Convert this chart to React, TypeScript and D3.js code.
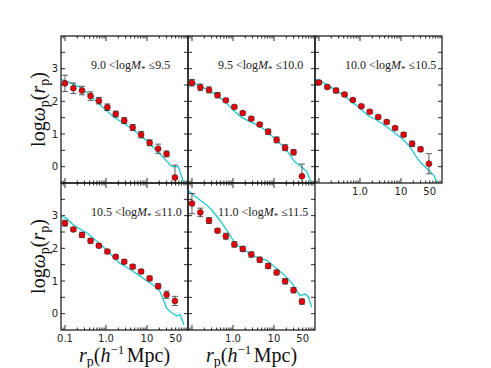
import React from 'react';
import * as d3 from 'd3';

// ---------- data ----------
const rp = [0.1, 0.16, 0.26, 0.42, 0.67, 1.08, 1.73, 2.79, 4.48, 7.2, 11.6, 18.7, 30, 48];

const massBins = [
  ['9.0', '9.5'],
  ['9.5', '10.0'],
  ['10.0', '10.5'],
  ['10.5', '11.0'],
  ['11.0', '11.5'],
];

const wp1 = [2.55, 2.40, 2.33, 2.16, 2.02, 1.82, 1.61, 1.41, 1.20, 0.98, 0.73, 0.55, 0.39, -0.33];
const err1 = [0.25, 0.16, 0.13, 0.13, 0.10, 0.10, 0.09, 0.09, 0.09, 0.10, 0.09, 0.14, 0.09, 0.38];
const wp2 = [2.57, 2.43, 2.35, 2.19, 2.03, 1.83, 1.64, 1.47, 1.29, 1.07, 0.82, 0.58, 0.44, -0.29];
const err2 = [0.10, 0.10, 0.09, 0.08, 0.05, 0.05, 0.05, 0.05, 0.06, 0.08, 0.09, 0.09, 0.08, 0.37];
const wp3 = [2.58, 2.44, 2.33, 2.21, 2.04, 1.85, 1.68, 1.52, 1.37, 1.18, 0.98, 0.70, 0.53, 0.09];
const err3 = [0.05, 0.05, 0.07, 0.05, 0.05, 0.05, 0.05, 0.05, 0.05, 0.05, 0.06, 0.08, 0.07, 0.31];
const wp4 = [2.77, 2.58, 2.41, 2.23, 2.08, 1.90, 1.74, 1.59, 1.44, 1.29, 1.08, 0.84, 0.58, 0.39];
const err4 = [0.09, 0.05, 0.08, 0.07, 0.06, 0.05, 0.05, 0.06, 0.06, 0.06, 0.07, 0.08, 0.11, 0.14];
const wp5 = [3.37, 3.10, 2.85, 2.54, 2.37, 2.12, 1.98, 1.81, 1.65, 1.46, 1.26, 0.99, 0.72, 0.37];
const err5 = [0.31, 0.13, 0.09, 0.06, 0.09, 0.08, 0.08, 0.08, 0.08, 0.08, 0.07, 0.08, 0.08, 0.08];

const line1R = [0.08, 0.146, 0.256, 0.41, 0.65, 1.0, 1.58, 2.5, 4.0, 6.3, 10.5, 16.6, 26, 40, 58, 79];
const line1V = [2.67, 2.55, 2.40, 2.19, 1.94, 1.73, 1.51, 1.35, 1.19, 1.0, 0.77, 0.51, 0.26, 0.0, 0.0, -0.5];
const line2R = [0.08, 0.157, 0.25, 0.40, 0.64, 1.02, 1.62, 2.6, 4.3, 6.9, 11.2, 17.9, 24.5, 32, 47, 63, 79];
const line2V = [2.67, 2.45, 2.35, 2.19, 1.99, 1.73, 1.51, 1.38, 1.25, 1.07, 0.82, 0.59, 0.36, 0.15, 0.0, -0.15, -0.46];
const line3R = [0.08, 0.154, 0.246, 0.39, 0.63, 1.0, 1.6, 2.56, 4.1, 6.5, 10.4, 16.6, 22, 29, 42, 62, 77];
const line3V = [2.70, 2.52, 2.35, 2.19, 1.99, 1.79, 1.55, 1.43, 1.25, 1.07, 0.87, 0.61, 0.36, 0.15, -0.05, -0.25, -0.51];
const line4R = [0.08, 0.11, 0.146, 0.193, 0.28, 0.37, 0.49, 0.71, 1.04, 1.51, 2.2, 3.2, 4.6, 6.8, 9.8, 14.3, 20, 25, 30, 40, 53, 64, 80];
const line4V = [2.99, 2.92, 2.77, 2.64, 2.54, 2.44, 2.31, 2.13, 1.95, 1.73, 1.54, 1.42, 1.29, 1.15, 1.01, 0.88, 0.72, 0.44, 0.16, 0.03, -0.07, -0.03, -0.35];
const line5R = [0.08, 0.108, 0.157, 0.229, 0.33, 0.48, 0.70, 0.93, 1.23, 1.79, 2.6, 4.15, 6.6, 10.6, 16.9, 27, 36, 43, 57, 69, 83];
const line5V = [3.77, 3.63, 3.48, 3.33, 3.12, 2.86, 2.56, 2.31, 2.10, 1.97, 1.83, 1.70, 1.64, 1.42, 1.21, 0.95, 0.71, 0.55, 0.60, 0.52, 0.20];

const obsV = [wp1, wp2, wp3, wp4, wp5];
const obsE = [err1, err2, err3, err4, err5];
const linesR = [line1R, line2R, line3R, line4R, line5R];
const linesV = [line1V, line2V, line3V, line4V, line5V];

const xTickLabels = [0.1, 1, 10, 50];
const xTickText = ['0.1', '1.0', '10', '50'];
const yTickLabels = [0, 1, 2, 3];

// ---------- layout ----------
const W = 491, H = 368;
const LEFT0 = 61, TOP0 = 36, PW = 127, PH = 147;
const X_DOMAIN = [0.08, 100];
const Y_DOMAIN = [-0.5, 4];
const CYAN = '#22c8cc';
const RED = '#e8000b';
const SANS = 'DejaVu Sans, sans-serif';
const SERIF = 'Liberation Serif, DejaVu Serif, serif';

function Panel({ i }: { i: number }) {
  const col = i % 3, row = Math.floor(i / 3);
  const x0 = LEFT0 + col * PW, y0 = TOP0 + row * PH;
  const x = d3.scaleLog().domain(X_DOMAIN).range([x0, x0 + PW]);
  const y = d3.scaleLinear().domain(Y_DOMAIN).range([y0 + PH, y0]);

  const majors = [0.1, 1, 10];
  const minors: number[] = [];
  [0.01, 0.1, 1, 10].forEach((d) => {
    for (let k = 2; k <= 9; k++) {
      const v = k * d;
      if (v > X_DOMAIN[0] && v < X_DOMAIN[1]) minors.push(v);
    }
  });
  const yt = d3.range(0, 8).map((k) => -0.5 + 0.5 * (k + 1)).filter((v) => v < 4);

  const lineGen = d3.line<[number, number]>().x((d) => x(d[0])).y((d) => y(d[1]));
  const lineData: [number, number][] = linesR[i].map((r, k) => [r, linesV[i][k]]);
  const clipId = `clip${i}`;
  const showXLabels = i >= 2;
  const showYLabels = col === 0;
  const [lo, hi] = massBins[i];

  return (
    <g>
      <defs>
        <clipPath id={clipId}>
          <rect x={x0} y={y0} width={PW} height={PH} />
        </clipPath>
      </defs>
      {/* ticks */}
      <g stroke="#111" strokeWidth={0.9}>
        {majors.map((v) => (
          <g key={'M' + v}>
            <line x1={x(v)} x2={x(v)} y1={y0 + PH} y2={y0 + PH - 5} />
            <line x1={x(v)} x2={x(v)} y1={y0} y2={y0 + 5} />
          </g>
        ))}
        {minors.map((v) => (
          <g key={'m' + v}>
            <line x1={x(v)} x2={x(v)} y1={y0 + PH} y2={y0 + PH - 2.5} />
            <line x1={x(v)} x2={x(v)} y1={y0} y2={y0 + 2.5} />
          </g>
        ))}
        {yt.map((v) => (
          <g key={'y' + v}>
            <line x1={x0} x2={x0 + 4} y1={y(v)} y2={y(v)} />
            <line x1={x0 + PW} x2={x0 + PW - 4} y1={y(v)} y2={y(v)} />
          </g>
        ))}
      </g>
      {/* model line */}
      <path d={lineGen(lineData) || ''} fill="none" stroke={CYAN} strokeWidth={1.3} clipPath={`url(#${clipId})`} />
      {/* observations */}
      <g clipPath={`url(#${clipId})`}>
        {rp.map((r, k) => {
          const v = obsV[i][k], e = obsE[i][k];
          const cx = x(r);
          return (
            <g key={k}>
              <g stroke="#333" strokeWidth={0.8}>
                <line x1={cx} x2={cx} y1={y(v - e)} y2={y(v + e)} />
                <line x1={cx - 3} x2={cx + 3} y1={y(v - e)} y2={y(v - e)} />
                <line x1={cx - 3} x2={cx + 3} y1={y(v + e)} y2={y(v + e)} />
              </g>
              <circle cx={cx} cy={y(v)} r={3} fill={RED} stroke="#222" strokeWidth={0.5} />
            </g>
          );
        })}
      </g>
      {/* frame */}
      <rect x={x0} y={y0} width={PW} height={PH} fill="none" stroke="#111" strokeWidth={1.2} />
      {/* labels */}
      {showXLabels &&
        xTickLabels.map((v, k) =>
          (i === 4 || i === 2) && k === 0 ? null : (
            <text key={'xl' + k} x={x(v)} y={y0 + PH + 12} fontFamily={SANS} fontSize={10} textAnchor="middle" fill="#222">{xTickText[k]}</text>
          )
        )}
      {showYLabels &&
        yTickLabels.map((v) => (
          <text key={'yl' + v} x={x0 - 3} y={y(v)} dy="0.35em" fontFamily={SANS} fontSize={10} textAnchor="end" fill="#222">{v}</text>
        ))}
      <text x={x0 + 30} y={y0 + 33} fontFamily={SERIF} fontSize={12} fill="#222">
        {lo + ' <log'}
        <tspan fontStyle="italic">M</tspan>
        <tspan fontSize={9} dy={3}>*</tspan>
        <tspan dy={-3}>{' ≤' + hi}</tspan>
      </text>
    </g>
  );
}

function YLabel({ cy }: { cy: number }) {
  return (
    <text transform={`translate(45,${cy}) rotate(-90)`} textAnchor="middle" fontFamily={SERIF} fontSize={20} fill="#111">
      log
      <tspan fontStyle="italic">ω</tspan>
      <tspan fontSize={14} dy={4}>p</tspan>
      <tspan dy={-4}>(</tspan>
      <tspan fontStyle="italic">r</tspan>
      <tspan fontSize={14} dy={4}>p</tspan>
      <tspan dy={-4}>)</tspan>
    </text>
  );
}

function XLabel({ cx }: { cx: number }) {
  return (
    <text x={cx} y={362} textAnchor="middle" fontFamily={SERIF} fontSize={20} fill="#111">
      <tspan fontStyle="italic">r</tspan>
      <tspan fontSize={14} dy={4}>p</tspan>
      <tspan dy={-4}>(</tspan>
      <tspan fontStyle="italic">h</tspan>
      <tspan fontSize={13} dy={-8}>−1</tspan>
      <tspan dy={8} dx={2.5}>{'Mpc)'}</tspan>
    </text>
  );
}

export default function App() {
  return (
    <svg width={W} height={H} style={{ position: 'absolute', left: 0, top: 0, background: '#fff' }}>
      <rect width={W} height={H} fill="#fff" />
      {[0, 1, 2, 3, 4].map((i) => (
        <Panel key={i} i={i} />
      ))}
      <YLabel cy={TOP0 + PH / 2} />
      <YLabel cy={TOP0 + PH + PH / 2} />
      <XLabel cx={LEFT0 + PW / 2} />
      <XLabel cx={LEFT0 + PW + PW / 2} />
    </svg>
  );
}
